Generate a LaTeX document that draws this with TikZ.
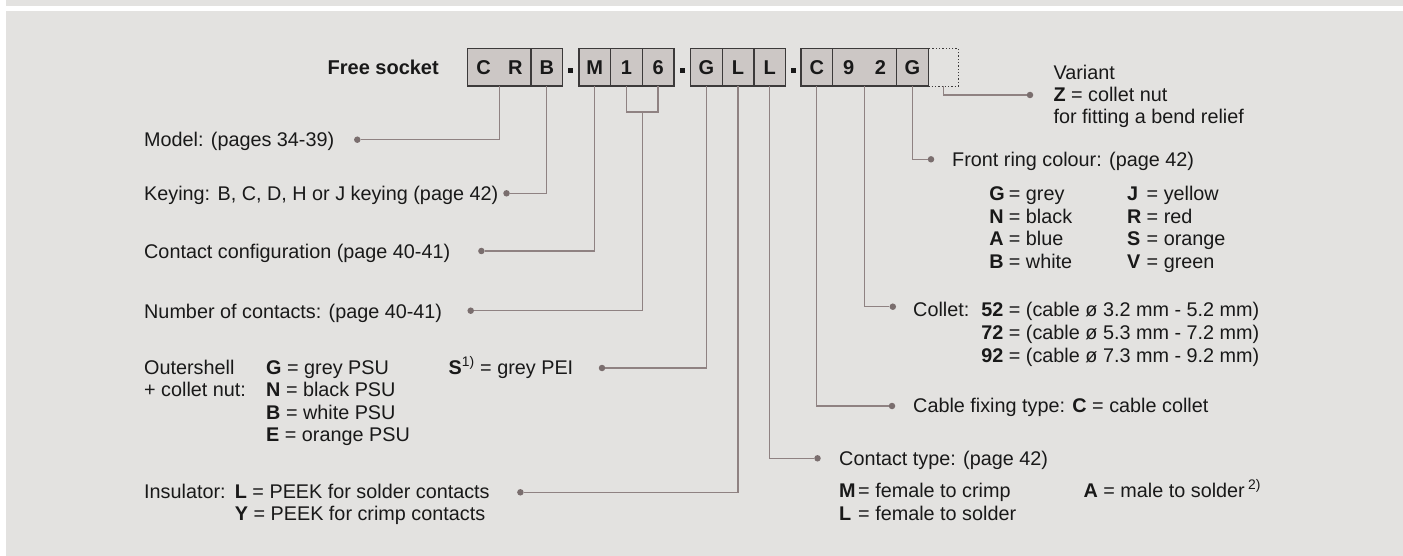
\documentclass[tikz,border=0pt]{standalone}
\usepackage{fontspec}
\setmainfont{Liberation Sans}
\usetikzlibrary{calc}
\definecolor{panel}{RGB}{227,226,224}
\definecolor{cellfill}{RGB}{204,199,197}
\definecolor{cellline}{RGB}{60,58,58}
\definecolor{leadcol}{RGB}{143,130,130}
\definecolor{ink}{RGB}{25,25,25}
\newcommand{\kv}[3][19.5pt]{\makebox[#1][l]{\textbf{#2}}= #3}

\begin{document}
\begin{tikzpicture}[x=1pt,y=-1pt,
  font=\fontsize{19.8pt}{22pt}\selectfont, text=ink,
  cell/.style={draw=cellline,fill=cellfill,line width=1.3pt,outer sep=0pt,
    inner sep=0pt,minimum height=37.7pt,minimum width=31.6pt,anchor=west,
    font=\fontsize{20pt}{22pt}\selectfont\bfseries},
  wide/.style={cell,minimum width=63.6pt},
  blank/.style={cell,fill=none,dotted,line width=1pt,minimum width=30pt},
  lead/.style={draw=leadcol,line width=1.3pt},
  ldot/.style={circle,fill=leadcol!85!black,inner sep=0pt,minimum size=6.5pt},
  sepdot/.style={fill=ink,inner sep=0pt,minimum size=4.5pt},
  txt/.style={anchor=base west,inner sep=0pt}]
% panel
\useasboundingbox (0,0) rectangle (1403,556);
\fill[white] (0,0) rectangle (1403,556);
\fill[panel] (6,0) rectangle (1403,6.3);
\fill[panel] (6,11) rectangle (1403,556);
% code boxes
\node[wide] (crb) at (467.7,67.2) {\makebox[31.8pt]{C}\makebox[31.8pt]{R}};
\node[cell] (keyb) at (531,67.2) {B};
\node[cell] (conf) at (579,67.2) {M};
\node[cell] (numa) at (610.7,67.2) {1};
\node[cell] (numb) at (642.3,67.2) {6};
\node[cell] (shell) at (690.7,67.2) {G};
\node[cell] (ins) at (722.3,67.2) {L};
\node[cell] (ctype) at (754,67.2) {L};
\node[cell] (fix) at (801,67.2) {C};
\node[wide] (coll) at (832.7,67.2) {\makebox[31.8pt]{9}\makebox[31.8pt]{2}};
\node[cell] (ring) at (896.7,67.2) {G};
\node[blank] (var) at (928.3,67.2) {};
% separators
\node[sepdot] (sep1) at (570.7,70.5) {};
\node[sepdot] (sep2) at (682.7,70.5) {};
\node[sepdot] (sep3) at (793.3,70.5) {};
\node[txt,anchor=base east,font=\fontsize{20pt}{22pt}\selectfont\bfseries] (title) at (439,74.5) {Free socket};
% lead ends
\node[ldot] (pmodel) at (357.3,139.7) {};
\node[ldot] (pkey) at (506.5,193.3) {};
\node[ldot] (pconf) at (481.4,251) {};
\node[ldot] (pnum) at (470.7,310.7) {};
\node[ldot] (pshell) at (602,368) {};
\node[ldot] (pins) at (520.4,492.3) {};
\node[ldot] (pvar) at (1030,95) {};
\node[ldot] (pring) at (931,159.3) {};
\node[ldot] (pcoll) at (892.8,306.7) {};
\node[ldot] (pfix) at (892,406) {};
\node[ldot] (pctype) at (817.5,458.3) {};
% leads
\draw[lead] (crb.south) |- (pmodel);
\draw[lead] (keyb.south) |- (pkey);
\draw[lead] (conf.south) |- (pconf);
\coordinate (brk) at ($(numa.south)!0.5!(numb.south)+(0,26)$);
\draw[lead] (numa.south) |- (brk) -| (numb.south);
\draw[lead] (brk) |- (pnum);
\draw[lead] (shell.south) |- (pshell);
\draw[lead] (ins.south) |- (pins);
\draw[lead] (ctype.south) |- (pctype);
\draw[lead] (fix.south) |- (pfix);
\draw[lead] (coll.south) |- (pcoll);
\draw[lead] (ring.south) |- (pring);
\draw[lead] (var.south) |- (pvar);
% left texts
\node[txt] (tmodel) at (144,146.7) {Model: (pages 34-39)};
\node[txt] (tkey) at (144,200.3) {Keying: B, C, D, H or J keying (page 42)};
\node[txt] (tconf) at (144,258.3) {Contact configuration (page 40-41)};
\node[txt] (tnum) at (144,318) {Number of contacts: (page 40-41)};
\node[txt] (tshell) at (144,374) {Outershell};
\node[txt] (tshellb) at (144,396.7) {+ collet nut:};
\foreach \k/\v [count=\i from 0] in {G/grey,N/black,B/white,E/orange}
  \node[txt] (shell\i) at (266,374+22.5*\i) {\textbf{\k} = \v\ PSU};
\node[txt] (shells) at (448.5,374) {\textbf{S}\textsuperscript{1)} = grey PEI};
\node[txt] (tins) at (144,498.5) {Insulator:};
\node[txt] (insl) at (234.7,498.5) {\textbf{L} = PEEK for solder contacts};
\node[txt] (insy) at (234.7,520.7) {\textbf{Y} = PEEK for crimp contacts};
% right texts
\node[txt] (tvar) at (1053.3,79.3) {Variant};
\node[txt] (tvarz) at (1053.3,101.7) {\textbf{Z} = collet nut};
\node[txt] (tvarb) at (1053.3,123.5) {for fitting a bend relief};
\node[txt] (tring) at (952,166.5) {Front ring colour: (page 42)};
\foreach \k/\v [count=\i from 0] in {G/grey,N/black,A/blue,B/white}
  \node[txt] (ringa\i) at (989.2,200.7+22.5*\i) {\kv{\k}{\v}};
\foreach \k/\v [count=\i from 0] in {J/yellow,R/red,S/orange,V/green}
  \node[txt] (ringb\i) at (1127,200.7+22.5*\i) {\kv{\k}{\v}};
\node[txt] (tcoll) at (913,316.5) {Collet:};
\foreach \dd/\lo/\hi [count=\i from 0] in {52/3.2/5.2,72/5.3/7.2,92/7.3/9.2}
  \node[txt] (colrow\i) at (981.2,316.5+23*\i) {\textbf{\dd} = (cable ø \lo\ mm - \hi\ mm)};
\node[txt] (tfix) at (913,412.5) {Cable fixing type: \textbf{C} = cable collet};
\node[txt] (tctype) at (839,465) {Contact type: (page 42)};
\node[txt] (ctm) at (839,497.3) {\kv[19pt]{M}{female to crimp}};
\node[txt] (ctl) at (839,520) {\kv[19pt]{L}{female to solder}};
\node[txt] (cta) at (1083.4,497.3) {\textbf{A} = male to solder\,\textsuperscript{2)}};
\end{tikzpicture}
\end{document}
